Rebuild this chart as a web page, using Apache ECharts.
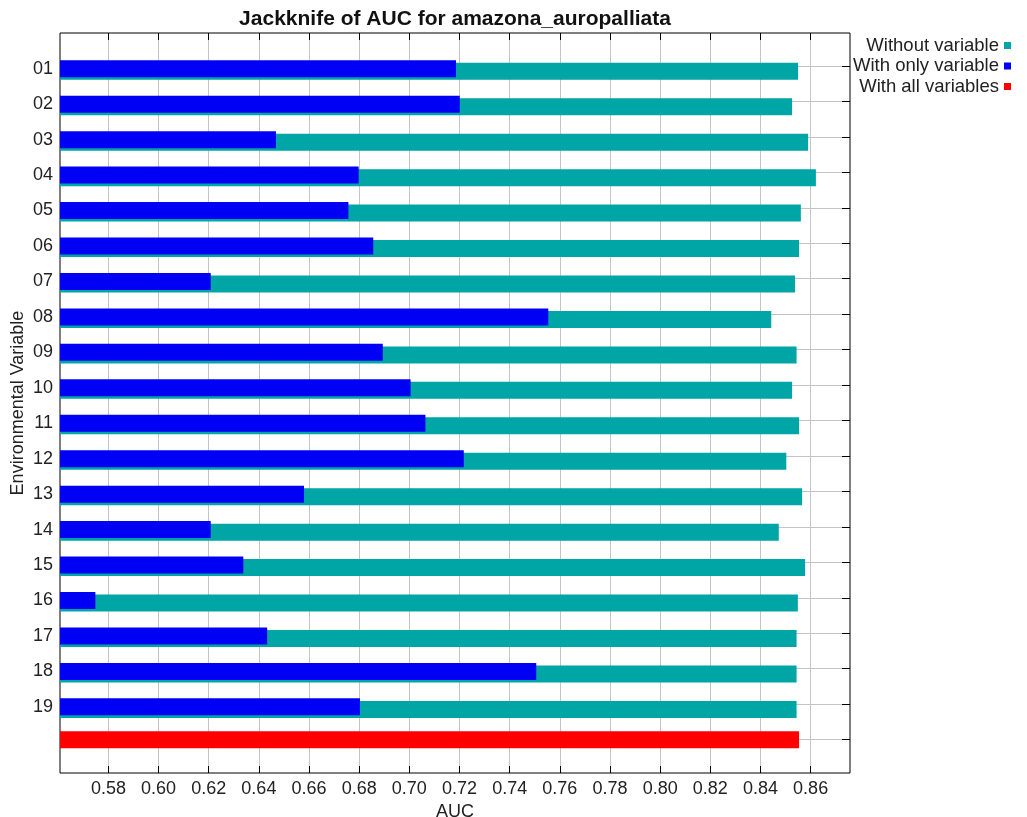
<!DOCTYPE html>
<html>
<head>
<meta charset="utf-8">
<script src="https://cdn.jsdelivr.net/npm/echarts@6/dist/echarts.min.js"></script>
<style>html,body{margin:0;padding:0;background:#fff}#c{width:1027px;height:817px}</style>
</head>
<body>
<div id="c"></div>
<script>
const categories = ['01','02','03','04','05','06','07','08','09','10','11','12','13','14','15','16','17','18','19',''];
const withoutVariable = [0.8550,0.8526,0.8590,0.8621,0.8561,0.8554,0.8538,0.8443,0.8544,0.8526,0.8554,0.8503,0.8566,0.8473,0.8578,0.8549,0.8544,0.8544,0.8544,null];
const withOnlyVariable = [0.7186,0.7201,0.6468,0.6798,0.6757,0.6856,0.6208,0.7554,0.6894,0.7005,0.7064,0.7217,0.6580,0.6208,0.6338,0.5748,0.6433,0.7506,0.6803,null];
const withAllVariables = [null,null,null,null,null,null,null,null,null,null,null,null,null,null,null,null,null,null,null,0.8554];
const xTicks = [0.58,0.60,0.62,0.64,0.66,0.68,0.70,0.72,0.74,0.76,0.78,0.80,0.82,0.84,0.86];
const xMin = 0.5607, xMax = 0.8757;

const FONT = '"Liberation Sans", Arial, Helvetica, sans-serif';
const TXT = '#222';
const GRIDC = '#c4c4c4';

const chart = echarts.init(document.getElementById('c'), null, {renderer: 'canvas'});
chart.setOption({
  animation: false,
  backgroundColor: '#fff',
  textStyle: {fontFamily: FONT},
  title: {
    text: 'Jackknife of AUC for amazona_auropalliata',
    left: 450, top: 4, textAlign: 'center',
    textStyle: {fontFamily: FONT, fontSize: 21, fontWeight: 'bold', color: '#111'}
  },
  legend: {
    orient: 'vertical', right: 11, top: 31, align: 'right',
    itemWidth: 7, itemHeight: 7, itemGap: 1.5, icon: 'rect',
    selectedMode: false,
    textStyle: {fontFamily: FONT, fontSize: 18.5, color: TXT},
    data: ['Without variable', 'With only variable', 'With all variables']
  },
  grid: [
    {left: 60, top: 33, width: 790, height: 740, show: true, borderColor: '#000', borderWidth: 1, backgroundColor: 'transparent', containLabel: false, outerBoundsMode: 'none'},
    {left: 60, top: 51, width: 790, height: 709, containLabel: false, outerBoundsMode: 'none'},
    {left: 60, top: 66, width: 790, height: 673.6, containLabel: false, outerBoundsMode: 'none'}
  ],
  xAxis: [
    {
      type: 'value', gridIndex: 0, position: 'bottom', min: xMin, max: xMax,
      name: 'AUC', nameLocation: 'middle', nameGap: 26,
      nameTextStyle: {fontFamily: FONT, fontSize: 18, color: TXT},
      axisLine: {show: false},
      axisTick: {show: true, inside: true, length: 7, customValues: xTicks, lineStyle: {color: '#000'}},
      axisLabel: {show: true, customValues: xTicks, margin: 7, fontFamily: FONT, fontSize: 18, color: TXT,
        formatter: v => Number(v).toFixed(2)},
      splitLine: {show: true, lineStyle: {color: GRIDC, width: 1}}
    },
    {
      type: 'value', gridIndex: 0, position: 'top', min: xMin, max: xMax,
      axisLine: {show: false},
      axisTick: {show: true, inside: true, length: 7, customValues: xTicks, lineStyle: {color: '#000'}},
      axisLabel: {show: false},
      splitLine: {show: false}
    },
    {
      type: 'value', gridIndex: 1, min: xMin, max: xMax, show: false,
      splitLine: {show: false}
    },
    {
      type: 'value', gridIndex: 2, min: xMin, max: xMax, show: false,
      splitLine: {show: false}
    }
  ],
  yAxis: [
    {
      type: 'value', gridIndex: 0, min: 0, max: 1,
      name: 'Environmental Variable', nameLocation: 'middle', nameGap: 33,
      nameTextStyle: {fontFamily: FONT, fontSize: 18, color: TXT},
      axisLine: {show: false}, axisTick: {show: false}, axisLabel: {show: false},
      splitLine: {show: false}
    },
    {
      type: 'category', gridIndex: 1, data: categories, inverse: true, position: 'left',
      axisLine: {show: false},
      axisTick: {show: false},
      axisLabel: {show: true, margin: 7, fontFamily: FONT, fontSize: 18, color: TXT},
      splitLine: {show: false}
    },
    {
      type: 'category', gridIndex: 2, data: categories, inverse: true, position: 'left', boundaryGap: false,
      axisLine: {show: false},
      axisTick: {show: true, inside: true, length: 8, lineStyle: {color: '#000'}},
      axisLabel: {show: false},
      splitLine: {show: true, lineStyle: {color: GRIDC, width: 1}}
    },
    {
      type: 'category', gridIndex: 2, data: categories, inverse: true, position: 'right', boundaryGap: false,
      axisLine: {show: false},
      axisTick: {show: true, inside: true, length: 8, lineStyle: {color: '#000'}},
      axisLabel: {show: false},
      splitLine: {show: false}
    }
  ],
  series: [
    {
      name: 'With all variables', type: 'bar', xAxisIndex: 2, yAxisIndex: 1,
      data: withAllVariables, barWidth: 17, barGap: '-85%', z: 2,
      itemStyle: {color: '#ff0000'}
    },
    {
      name: 'With only variable', type: 'bar', xAxisIndex: 2, yAxisIndex: 1,
      data: withOnlyVariable, barWidth: 17, barGap: '-85%', z: 4,
      itemStyle: {color: '#0000f5'}
    },
    {
      name: 'Without variable', type: 'bar', xAxisIndex: 2, yAxisIndex: 1,
      data: withoutVariable, barWidth: 17, barGap: '-85%', z: 3,
      itemStyle: {color: '#00a5a5'}
    }
  ]
});
</script>
</body>
</html>
